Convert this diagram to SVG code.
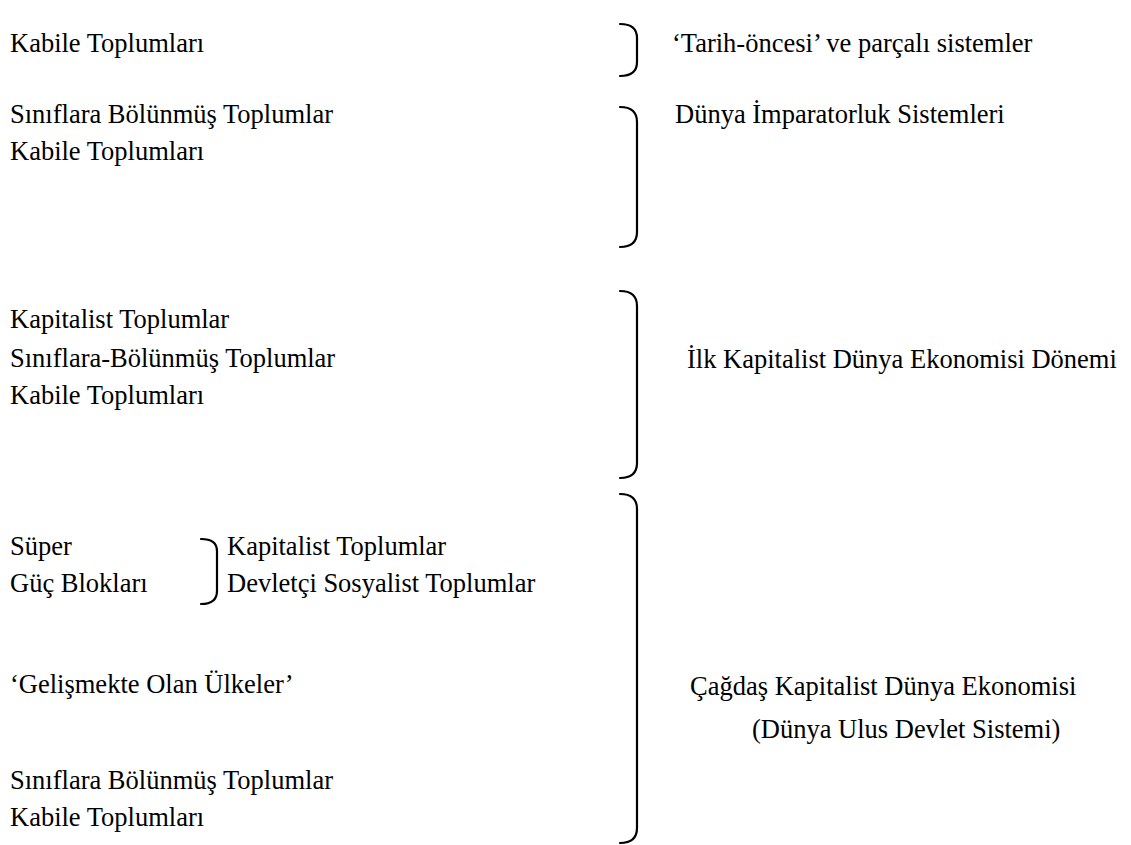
<svg xmlns="http://www.w3.org/2000/svg" width="1131" height="845" viewBox="0 0 1131 845">
<style>
text{font-family:"Liberation Serif","Times New Roman",serif;font-size:26.5px;fill:#000}
.br{fill:none;stroke:#000;stroke-width:2.2;stroke-linecap:round}
</style>
<rect width="1131" height="845" fill="#fff"/>
<g id="left-labels">
<text x="10" y="52">Kabile Toplumları</text>
<text x="10" y="123">Sınıflara Bölünmüş Toplumlar</text>
<text x="10" y="160">Kabile Toplumları</text>
<text x="10" y="328">Kapitalist Toplumlar</text>
<text x="10" y="367">Sınıflara-Bölünmüş Toplumlar</text>
<text x="10" y="404">Kabile Toplumları</text>
<text x="10" y="555">Süper</text>
<text x="10" y="592">Güç Blokları</text>
<text x="227" y="555">Kapitalist Toplumlar</text>
<text x="227" y="592">Devletçi Sosyalist Toplumlar</text>
<text x="10" y="693">‘Gelişmekte Olan Ülkeler’</text>
<text x="10" y="789">Sınıflara Bölünmüş Toplumlar</text>
<text x="10" y="826">Kabile Toplumları</text>
</g>
<g id="right-labels">
<text x="672" y="52">‘Tarih-öncesi’ ve parçalı sistemler</text>
<text x="675" y="123">Dünya İmparatorluk Sistemleri</text>
<text x="687" y="368">İlk Kapitalist Dünya Ekonomisi Dönemi</text>
<text x="690" y="695">Çağdaş Kapitalist Dünya Ekonomisi</text>
<text x="752" y="738">(Dünya Ulus Devlet Sistemi)</text>
</g>
<g id="braces">
<path class="br" d="M620,24 Q637,24 637,38 V62 Q637,76 620,76"/>
<path class="br" d="M620,107 Q637,107 637,122 V232 Q637,247 620,247"/>
<path class="br" d="M620,291 Q637,291 637,306 V463 Q637,478 620,478"/>
<path class="br" d="M620,494 Q637,494 637,509 V828 Q637,843 620,843"/>
<path class="br" d="M201,539 Q217,539 217,551 V591 Q217,604 201,604"/>
</g>
</svg>
